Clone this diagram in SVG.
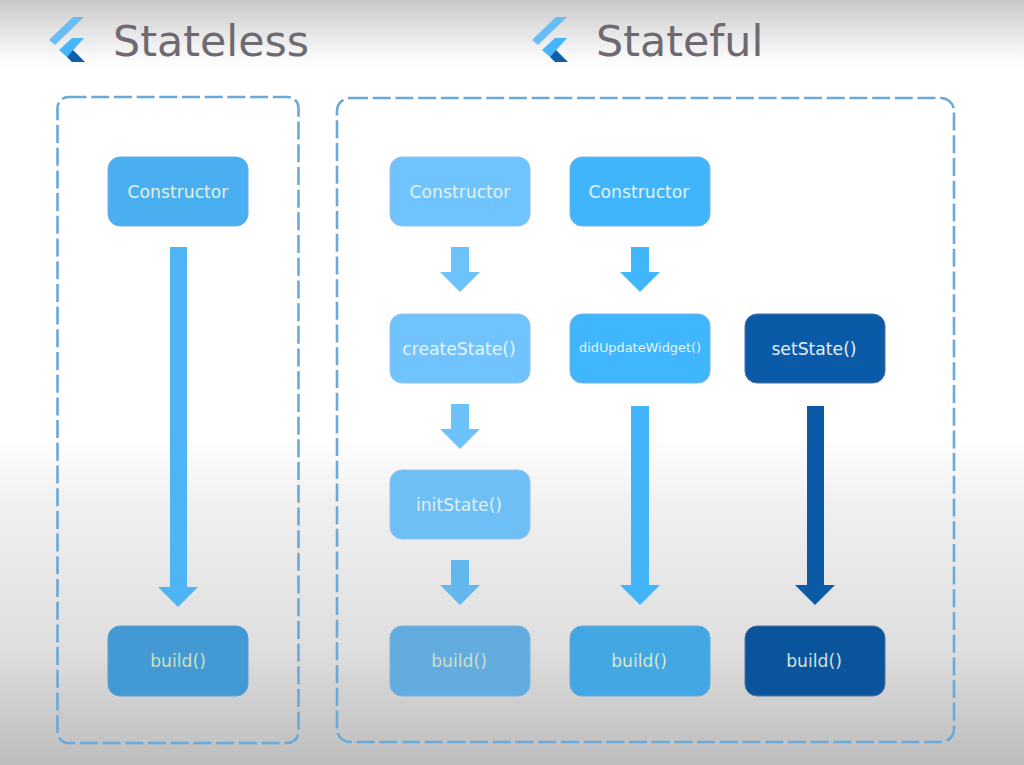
<svg xmlns="http://www.w3.org/2000/svg" width="1024" height="765" viewBox="0 0 1024 765">
<style>
.title{font-family:"DejaVu Sans",sans-serif;font-size:42.8px;fill:#6f6a72}
.lbl{font-family:"DejaVu Sans",sans-serif;font-size:17.2px;text-anchor:middle;dominant-baseline:central}
.frame{fill:none;stroke:#6aa9d8;stroke-width:2.6;stroke-dasharray:18 4.7}
.box{stroke-width:1}
</style>
<defs>
<linearGradient id="bg" x1="0" y1="0" x2="0" y2="1">
<stop offset="0" stop-color="#c8c8c8"/>
<stop offset="0.035" stop-color="#e0e0e0"/>
<stop offset="0.075" stop-color="#fafafa"/>
<stop offset="0.09" stop-color="#ffffff"/>
<stop offset="0.57" stop-color="#ffffff"/>
<stop offset="0.66" stop-color="#f0f0f0"/>
<stop offset="0.85" stop-color="#dedede"/>
<stop offset="1" stop-color="#bcbcbc"/>
</linearGradient>
<g id="logo">
<polygon points="49,40 73,17 84,17 55,45" fill="#69bdf5"/>
<polygon points="59,50 72,38 84,38 67,57" fill="#47b5fa"/>
<polygon points="67,57 73,50 85,62 72,62" fill="#0f5ea8"/>
</g>
</defs>
<rect width="1024" height="765" fill="url(#bg)"/>
<g id="stateless-title"><use href="#logo"/><text class="title" x="113" y="56">Stateless</text></g>
<g id="stateful-title"><use href="#logo" x="483"/><text class="title" x="596" y="56">Stateful</text></g>
<rect id="stateless-frame" class="frame" x="57.5" y="97" width="241" height="646" rx="11"/>
<rect id="stateful-frame" class="frame" x="337" y="98" width="617" height="644" rx="13"/>
<g id="connectors">
<polygon fill="#4fb4f3" points="170,247 187,247 187,587 198,587 178,607 158,587 170,587"/>
<polygon fill="#6cc2fb" points="451,247 469,247 469,272 480,272 460,292 440,272 451,272"/>
<polygon fill="#6cc2fb" points="451,404 469,404 469,429 480,429 460,449 440,429 451,429"/>
<polygon fill="#62b7ec" points="451,560 469,560 469,585 480,585 460,605 440,585 451,585"/>
<polygon fill="#42b6fb" points="631,247 649,247 649,272 660,272 640,292 620,272 631,272"/>
<polygon fill="#42b4f8" points="631,406 649,406 649,585 660,585 640,605 620,585 631,585"/>
<polygon fill="#0b5aa6" points="807,406 824,406 824,585 835,585 815,605 795,585 807,585"/>
</g>
<g id="n1"><rect class="box" x="108" y="157" width="140" height="69" rx="12" fill="#49aff0" stroke="#6daee6"/><text class="lbl" x="178" y="192" fill="#e2f3e8">Constructor</text></g>
<g id="n2"><rect class="box" x="108" y="626" width="140" height="70" rx="12" fill="#4299d3" stroke="#5f9fd0"/><text class="lbl" x="178" y="661" fill="#cfe0c0">build()</text></g>
<g id="n3"><rect class="box" x="390" y="157" width="140" height="69" rx="12" fill="#6fc4fd" stroke="#93c4ee"/><text class="lbl" x="460" y="192" fill="#e2f3f0">Constructor</text></g>
<g id="n4"><rect class="box" x="390" y="314" width="140" height="69" rx="12" fill="#70c3fc" stroke="#93c4ee"/><text class="lbl" x="459" y="349" fill="#e6f5f5">createState()</text></g>
<g id="n5"><rect class="box" x="390" y="470" width="140" height="69" rx="12" fill="#6dbff5" stroke="#93c4ee"/><text class="lbl" x="459" y="505" fill="#e2f0ee">initState()</text></g>
<g id="n6"><rect class="box" x="390" y="626" width="140" height="70" rx="12" fill="#62acdf" stroke="#7fb2dc"/><text class="lbl" x="459" y="661" fill="#cfdcc8">build()</text></g>
<g id="n7"><rect class="box" x="570" y="157" width="140" height="69" rx="12" fill="#41b5fb" stroke="#75b4ea"/><text class="lbl" x="639" y="192" fill="#e2f3f0">Constructor</text></g>
<g id="n8"><rect class="box" x="570" y="314" width="140" height="69" rx="12" fill="#3fb6fd" stroke="#75b4ea"/><text class="lbl" x="640" y="347" fill="#e2f3f5" style="font-size:12.9px">didUpdateWidget()</text></g>
<g id="n9"><rect class="box" x="570" y="626" width="140" height="70" rx="12" fill="#42a7e3" stroke="#6aa7d8"/><text class="lbl" x="639" y="661" fill="#d8e6cc">build()</text></g>
<g id="n10"><rect class="box" x="745" y="314" width="140" height="69" rx="12" fill="#0b5aa8" stroke="#4a74a6"/><text class="lbl" x="814" y="349" fill="#e8eef0">setState()</text></g>
<g id="n11"><rect class="box" x="745" y="626" width="140" height="70" rx="12" fill="#0a549c" stroke="#55759c"/><text class="lbl" x="814" y="661" fill="#d6e0dc">build()</text></g>
</svg>
